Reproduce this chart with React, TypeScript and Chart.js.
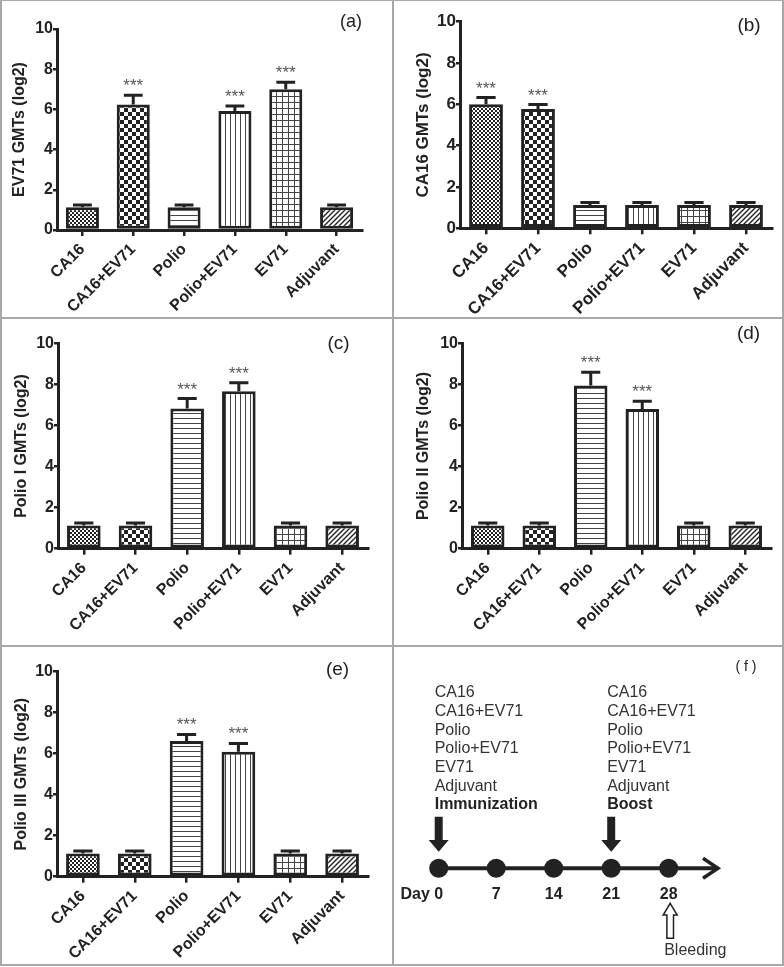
import React, { useEffect, useRef } from "react";
import { Chart, registerables } from "chart.js";
Chart.register(...registerables);

// ---------------- data ----------------
const categories = ["CA16", "CA16+EV71", "Polio", "Polio+EV71", "EV71", "Adjuvant"];
const yTicks = [0, 2, 4, 6, 8, 10];

const ev71Values = [1.13, 6.25, 1.13, 5.92, 7.0, 1.13];
const ev71Errors = [0.12, 0.45, 0.12, 0.25, 0.35, 0.12];
const ev71Stars = [false, true, false, true, true, false];

const ca16Values = [6.0, 5.77, 1.13, 1.13, 1.13, 1.13];
const ca16Errors = [0.33, 0.22, 0.12, 0.12, 0.12, 0.12];
const ca16Stars = [true, true, false, false, false, false];

const polio1Values = [1.13, 1.13, 6.83, 7.66, 1.13, 1.13];
const polio1Errors = [0.12, 0.12, 0.48, 0.42, 0.12, 0.12];
const polio1Stars = [false, false, true, true, false, false];

const polio2Values = [1.13, 1.13, 7.94, 6.8, 1.13, 1.13];
const polio2Errors = [0.12, 0.12, 0.65, 0.38, 0.12, 0.12];
const polio2Stars = [false, false, true, true, false, false];

const polio3Values = [1.13, 1.13, 6.62, 6.1, 1.13, 1.13];
const polio3Errors = [0.12, 0.12, 0.32, 0.4, 0.12, 0.12];
const polio3Stars = [false, false, true, true, false, false];

const timelineDays = [0, 7, 14, 21, 28];
const timelineDayLabels = ["Day 0", "7", "14", "21", "28"];
const timelineEvents = [
  { day: 0, title: "Immunization" },
  { day: 21, title: "Boost" },
];
const bleedingDay = 28;
const bleedingLabel = "Bleeding";
const timelineEndDay = 34;

// ---------------- styles ----------------
const FONT = "'Liberation Sans', Arial, Helvetica, sans-serif";
const INK = "#222";
const BORDER = "#a9a9a9";
const patternKinds = ["fineCheck", "check", "hlines", "vlines", "grid", "diag"];

function makePattern(kind: string): any {
  const c = document.createElement("canvas");
  const ctx = c.getContext("2d")!;
  let s = 4;
  if (kind === "fineCheck") s = 4;
  else if (kind === "check") s = 8;
  else if (kind === "hlines" || kind === "vlines" || kind === "diag") s = 5;
  else if (kind === "grid") s = 6;
  c.width = s;
  c.height = s;
  ctx.fillStyle = "#fff";
  ctx.fillRect(0, 0, s, s);
  ctx.fillStyle = "#222";
  ctx.strokeStyle = "#222";
  if (kind === "fineCheck") {
    ctx.fillRect(0, 0, 2, 2);
    ctx.fillRect(2, 2, 2, 2);
  } else if (kind === "check") {
    ctx.fillRect(0, 0, 4, 4);
    ctx.fillRect(4, 4, 4, 4);
  } else if (kind === "hlines") {
    ctx.fillStyle = "#444";
    ctx.fillRect(0, 0, s, 1);
  } else if (kind === "vlines") {
    ctx.fillStyle = "#444";
    ctx.fillRect(0, 0, 1, s);
  } else if (kind === "grid") {
    ctx.fillStyle = "#444";
    ctx.fillRect(0, 0, s, 1);
    ctx.fillRect(0, 0, 1, s);
  } else if (kind === "diag") {
    ctx.lineWidth = 1.4;
    ctx.beginPath();
    ctx.moveTo(0, s);
    ctx.lineTo(s, 0);
    ctx.moveTo(-1, 1);
    ctx.lineTo(1, -1);
    ctx.moveTo(s - 1, s + 1);
    ctx.lineTo(s + 1, s - 1);
    ctx.stroke();
  }
  return ctx.createPattern(c, "repeat");
}

type PanelCfg = {
  x: number; y: number; w: number; h: number;
  axisX: number; top: number; bottom: number; right: number;
  title: string; titlePad: number; font: number;
  values: number[]; errors: number[]; stars: boolean[];
  letter: string; letterX: number; letterY: number; letterSize: number;
};

const panels: PanelCfg[] = [
  { x: 0, y: 0, w: 392, h: 317, axisX: 57, top: 29, bottom: 230, right: 362,
    title: "EV71 GMTs (log2)", titlePad: 9.5, font: 16,
    values: ev71Values, errors: ev71Errors, stars: ev71Stars,
    letter: "(a)", letterX: 351, letterY: 26.5, letterSize: 18 },
  { x: 393, y: 0, w: 391, h: 317, axisX: 67, top: 21.7, bottom: 228.3, right: 379,
    title: "CA16 GMTs (log2)", titlePad: 20.5, font: 17,
    values: ca16Values, errors: ca16Errors, stars: ca16Stars,
    letter: "(b)", letterX: 356, letterY: 31, letterSize: 19 },
  { x: 0, y: 318, w: 392, h: 327, axisX: 58, top: 25.3, bottom: 230.7, right: 368,
    title: "Polio I GMTs (log2)", titlePad: 12, font: 16,
    values: polio1Values, errors: polio1Errors, stars: polio1Stars,
    letter: "(c)", letterX: 338.5, letterY: 31, letterSize: 19 },
  { x: 393, y: 318, w: 391, h: 327, axisX: 69, top: 25.3, bottom: 230.7, right: 378,
    title: "Polio II GMTs (log2)", titlePad: 21, font: 16,
    values: polio2Values, errors: polio2Errors, stars: polio2Stars,
    letter: "(d)", letterX: 355.5, letterY: 21, letterSize: 19 },
  { x: 0, y: 646, w: 392, h: 320, axisX: 57, top: 25.7, bottom: 230.7, right: 368,
    title: "Polio III GMTs (log2)", titlePad: 12, font: 16,
    values: polio3Values, errors: polio3Errors, stars: polio3Stars,
    letter: "(e)", letterX: 337.5, letterY: 29, letterSize: 19 },
];

function BarPanel({ cfg }: { cfg: PanelCfg }) {
  const ref = useRef<HTMLCanvasElement>(null);
  useEffect(() => {
    const patterns = patternKinds.map((k) => makePattern(k));
    const extras = {
      id: "barExtras",
      afterDatasetsDraw(chart: any) {
        const ctx = chart.ctx;
        const meta = chart.getDatasetMeta(0);
        const ys = chart.scales.y;
        meta.data.forEach((el: any, i: number) => {
          const top = ys.getPixelForValue(cfg.values[i] + cfg.errors[i]);
          const capW = el.width * 0.57;
          ctx.save();
          ctx.strokeStyle = INK;
          ctx.lineWidth = 3;
          ctx.beginPath();
          ctx.moveTo(el.x, el.y);
          ctx.lineTo(el.x, top);
          ctx.moveTo(el.x - capW / 2, top);
          ctx.lineTo(el.x + capW / 2, top);
          ctx.stroke();
          if (cfg.stars[i]) {
            ctx.fillStyle = "#555";
            ctx.font = `17px ${FONT}`;
            ctx.textAlign = "center";
            ctx.textBaseline = "alphabetic";
            ctx.fillText("***", el.x, top - 4);
          }
          ctx.restore();
        });
        ctx.save();
        ctx.fillStyle = INK;
        ctx.font = `${cfg.letterSize}px ${FONT}`;
        ctx.textAlign = "center";
        ctx.textBaseline = "alphabetic";
        ctx.fillText(cfg.letter, cfg.letterX, cfg.letterY);
        ctx.restore();
      },
    };
    const chart = new Chart(ref.current!, {
      type: "bar",
      data: {
        labels: categories,
        datasets: [
          {
            data: cfg.values,
            backgroundColor: patterns,
            borderColor: INK,
            borderWidth: 3,
            borderSkipped: false,
            barPercentage: 0.65,
            categoryPercentage: 1,
          } as any,
        ],
      },
      options: {
        responsive: false,
        animation: false,
        events: [],
        layout: { padding: { left: 0, top: cfg.top, right: cfg.w - cfg.right, bottom: 0 } },
        plugins: { legend: { display: false }, tooltip: { enabled: false } },
        scales: {
          x: {
            grid: { display: true, drawOnChartArea: false, drawTicks: true, tickLength: 6, offset: false, color: INK, lineWidth: 2.5 },
            border: { display: true, color: INK, width: 3 },
            ticks: {
              color: INK,
              font: { family: FONT, size: cfg.font, weight: "bold" },
              minRotation: 45,
              maxRotation: 45,
              autoSkip: false,
              padding: 4,
            },
            afterFit: (s: any) => {
              s.height = cfg.h - cfg.bottom;
              s.paddingLeft = 0;
              s.paddingRight = 0;
            },
          },
          y: {
            min: 0,
            max: 10,
            afterBuildTicks: (s: any) => {
              s.ticks = yTicks.map((v) => ({ value: v }));
            },
            ticks: { color: INK, font: { family: FONT, size: cfg.font, weight: "bold" }, padding: 0 },
            grid: { drawOnChartArea: false, drawTicks: true, tickLength: 4, color: INK, lineWidth: 2.5 },
            border: { display: true, color: INK, width: 3 },
            title: {
              display: true,
              text: cfg.title,
              color: INK,
              font: { family: FONT, size: cfg.font, weight: "bold" },
              padding: { top: cfg.titlePad, bottom: 0 },
            },
            afterFit: (s: any) => {
              s.width = cfg.axisX;
              s.paddingTop = 0;
              s.paddingBottom = 0;
            },
          },
        },
      } as any,
      plugins: [extras],
    });
    return () => chart.destroy();
  }, []);
  return (
    <canvas
      ref={ref}
      width={cfg.w}
      height={cfg.h}
      style={{ position: "absolute", left: cfg.x, top: cfg.y, width: cfg.w, height: cfg.h }}
    />
  );
}

const timelineBox = { x: 393, y: 646, w: 391, h: 320 };

function TimelinePanel() {
  const ref = useRef<HTMLCanvasElement>(null);
  useEffect(() => {
    const { w, h } = timelineBox;
    const axisY = 222.3;
    const extras = {
      id: "timelineExtras",
      beforeDatasetsDraw(chart: any) {
        const ctx = chart.ctx;
        const xs = chart.scales.x;
        const ys = chart.scales.y;
        const y0 = ys.getPixelForValue(0);
        const xStart = xs.getPixelForValue(timelineDays[0]);
        const xEnd = xs.getPixelForValue(timelineEndDay);
        ctx.save();
        ctx.strokeStyle = INK;
        ctx.lineWidth = 4;
        ctx.beginPath();
        ctx.moveTo(xStart, y0);
        ctx.lineTo(xEnd - 2, y0);
        ctx.stroke();
        ctx.lineWidth = 3.5;
        ctx.lineJoin = "miter";
        ctx.beginPath();
        ctx.moveTo(xEnd - 15, y0 - 10);
        ctx.lineTo(xEnd, y0);
        ctx.lineTo(xEnd - 15, y0 + 10);
        ctx.stroke();
        ctx.restore();
      },
      afterDatasetsDraw(chart: any) {
        const ctx = chart.ctx;
        const xs = chart.scales.x;
        const ys = chart.scales.y;
        const y0 = ys.getPixelForValue(0);
        ctx.save();
        timelineEvents.forEach((ev) => {
          const px = xs.getPixelForValue(ev.day);
          const tx = px - 4;
          ctx.textAlign = "left";
          ctx.textBaseline = "middle";
          ctx.fillStyle = "#333";
          ctx.font = `16px ${FONT}`;
          categories.forEach((c, i) => {
            ctx.fillText(c, tx, y0 - 175.6 + i * 18.7);
          });
          ctx.font = `bold 16px ${FONT}`;
          ctx.fillStyle = INK;
          ctx.fillText(ev.title, tx, y0 - 175.6 + categories.length * 18.7);
          ctx.fillStyle = INK;
          ctx.beginPath();
          ctx.moveTo(px - 4, y0 - 51.6);
          ctx.lineTo(px + 4, y0 - 51.6);
          ctx.lineTo(px + 4, y0 - 28.3);
          ctx.lineTo(px + 10, y0 - 28.3);
          ctx.lineTo(px, y0 - 16.6);
          ctx.lineTo(px - 10, y0 - 28.3);
          ctx.lineTo(px - 4, y0 - 28.3);
          ctx.closePath();
          ctx.fill();
        });
        ctx.fillStyle = INK;
        ctx.font = `bold 16px ${FONT}`;
        ctx.textBaseline = "alphabetic";
        timelineDays.forEach((d, i) => {
          const px = xs.getPixelForValue(d);
          const label = timelineDayLabels[i];
          const parts = label.split(" ");
          const num = parts[parts.length - 1];
          const numW = ctx.measureText(num).width;
          ctx.textAlign = "right";
          ctx.fillText(label, px + numW / 2, y0 + 31);
        });
        const bx = xs.getPixelForValue(bleedingDay) + 1.5;
        ctx.strokeStyle = INK;
        ctx.fillStyle = "#fff";
        ctx.lineWidth = 1.5;
        ctx.beginPath();
        ctx.moveTo(bx, y0 + 35);
        ctx.lineTo(bx + 7, y0 + 46.7);
        ctx.lineTo(bx + 3.3, y0 + 46.7);
        ctx.lineTo(bx + 3.3, y0 + 70);
        ctx.lineTo(bx - 3.3, y0 + 70);
        ctx.lineTo(bx - 3.3, y0 + 46.7);
        ctx.lineTo(bx - 7, y0 + 46.7);
        ctx.closePath();
        ctx.fill();
        ctx.stroke();
        ctx.fillStyle = "#333";
        ctx.font = `16px ${FONT}`;
        ctx.textAlign = "left";
        ctx.textBaseline = "middle";
        ctx.fillText(bleedingLabel, bx - 6, y0 + 82);
        ctx.fillStyle = INK;
        ctx.font = `14px ${FONT}`;
        ctx.textAlign = "center";
        ctx.textBaseline = "alphabetic";
        ctx.fillText("( f )", 353, 25);
        ctx.restore();
      },
    };
    const x0 = 45.7;
    const x28 = 275.7;
    const chart = new Chart(ref.current!, {
      type: "scatter",
      data: {
        datasets: [
          {
            data: timelineDays.map((d) => ({ x: d, y: 0 })),
            pointRadius: 9.5,
            pointBackgroundColor: INK,
            pointBorderWidth: 0,
            showLine: false,
            clip: false,
          } as any,
        ],
      },
      options: {
        responsive: false,
        animation: false,
        events: [],
        layout: { padding: { left: x0, right: w - x28, top: axisY - 20, bottom: h - axisY - 20 } },
        plugins: { legend: { display: false }, tooltip: { enabled: false } },
        scales: {
          x: { type: "linear", min: timelineDays[0], max: timelineDays[timelineDays.length - 1], display: false },
          y: { min: -1, max: 1, display: false },
        },
      } as any,
      plugins: [extras],
    });
    return () => chart.destroy();
  }, []);
  return (
    <canvas
      ref={ref}
      width={timelineBox.w}
      height={timelineBox.h}
      style={{ position: "absolute", left: timelineBox.x, top: timelineBox.y, width: timelineBox.w, height: timelineBox.h }}
    />
  );
}

const borderLines = [
  { left: 0, top: 0, width: 784, height: 1 },
  { left: 0, top: 0, width: 2, height: 966 },
  { left: 782, top: 0, width: 2, height: 966 },
  { left: 0, top: 964, width: 784, height: 2 },
  { left: 392, top: 0, width: 2, height: 966 },
  { left: 0, top: 317, width: 784, height: 2 },
  { left: 0, top: 645, width: 784, height: 2 },
];

export default function App() {
  return (
    <div style={{ position: "absolute", left: 0, top: 0, width: 784, height: 967, background: "#fff", overflow: "hidden" }}>
      {panels.map((p, i) => (
        <BarPanel key={i} cfg={p} />
      ))}
      <TimelinePanel />
      {borderLines.map((b, i) => (
        <div key={"b" + i} style={{ position: "absolute", background: BORDER, zIndex: 5, ...b }} />
      ))}
    </div>
  );
}
